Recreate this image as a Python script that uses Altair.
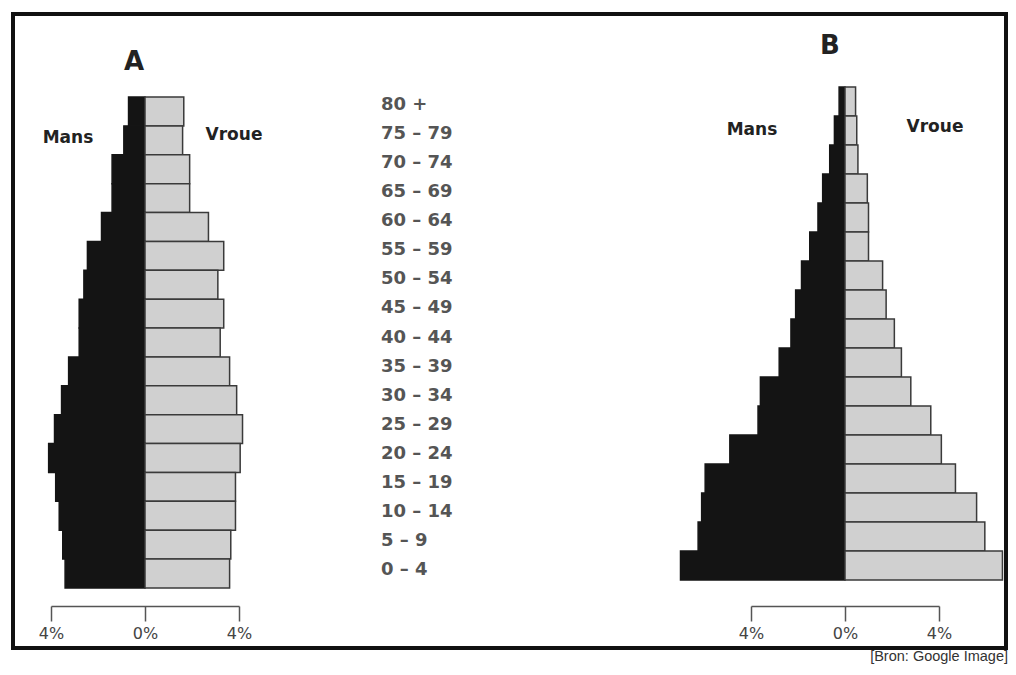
import altair as alt
import pandas as pd

# ---- data ----
ages = ["80 +", "75 – 79", "70 – 74", "65 – 69", "60 – 64", "55 – 59", "50 – 54",
        "45 – 49", "40 – 44", "35 – 39", "30 – 34", "25 – 29", "20 – 24",
        "15 – 19", "10 – 14", "5 – 9", "0 – 4"]

a_mans = [0.7, 0.9, 1.4, 1.4, 1.85, 2.45, 2.6, 2.8, 2.8, 3.25, 3.55, 3.85, 4.1, 3.8, 3.65, 3.5, 3.4]
a_vroue = [1.65, 1.6, 1.9, 1.9, 2.7, 3.35, 3.1, 3.35, 3.2, 3.6, 3.9, 4.15, 4.05, 3.85, 3.85, 3.65, 3.6]

b_mans = [0.25, 0.45, 0.65, 0.95, 1.15, 1.5, 1.85, 2.1, 2.3, 2.8, 3.6, 3.7, 4.9, 5.95, 6.1, 6.25, 7.0]
b_vroue = [0.45, 0.5, 0.55, 0.95, 1.0, 1.0, 1.6, 1.75, 2.1, 2.4, 2.8, 3.65, 4.1, 4.7, 5.6, 5.95, 6.7]

sexes = ["Mans", "Vroue"]
tick_values = [-4, 0, 4]
source_text = "[Bron:  Google Image]"

W, H = 1000, 598


def pyramid_table(mans, vroue):
    rows = []
    for age, m, v in zip(ages, mans, vroue):
        rows.append({"age": age, "sex": sexes[0], "pct": m, "signed": -m})
        rows.append({"age": age, "sex": sexes[1], "pct": v, "signed": v})
    return pd.DataFrame(rows)


def pyramid(df, x_range, y_range):
    # the axis line spans exactly the scale range, i.e. -4% .. 4%
    xs = alt.Scale(domain=[min(tick_values), max(tick_values)], range=x_range,
                   nice=False, zero=False)
    axis = alt.Axis(values=tick_values, labelExpr="abs(datum.value) + '%'",
                    orient="bottom", domain=True, domainColor="#555", domainWidth=1.5,
                    grid=False, ticks=True, tickSize=15, tickWidth=1.5, tickColor="#555",
                    labelFont="DejaVu Sans", labelFontSize=16, labelColor="#444",
                    labelPadding=4, labelFlush=False, title=None)
    return alt.Chart(df).mark_bar(strokeWidth=1.5).encode(
        x=alt.X("signed:Q", scale=xs, axis=axis, title=None),
        x2=alt.datum(0),
        y=alt.Y("age:N", sort=ages,
                scale=alt.Scale(range=y_range, paddingInner=0, paddingOuter=0),
                axis=None),
        color=alt.Color("sex:N", scale=alt.Scale(domain=sexes, range=["#141414", "#d0d0d0"]),
                        legend=None),
        stroke=alt.Stroke("sex:N", scale=alt.Scale(domain=sexes, range=["#141414", "#3a3a3a"]),
                          legend=None),
    )


def annot(text, x, y, size, weight="bold", color="#222", font="DejaVu Sans", align="center"):
    return alt.Chart(alt.Data(values=[{}])).mark_text(
        text=text, font=font, fontSize=size, fontWeight=weight, color=color,
        align=align, baseline="middle"
    ).encode(x=alt.value(x), y=alt.value(y))


pyr_a = pyramid(pyramid_table(a_mans, a_vroue), [43, 231], [89, 580])
pyr_b = pyramid(pyramid_table(b_mans, b_vroue), [743, 931], [79, 572])

labels = alt.Chart(pd.DataFrame({"age": ages})).transform_calculate(
    shown="length(datum.age) == 5 ? '\u2007\u2008' + datum.age : datum.age"
).mark_text(align="left", baseline="middle", font="DejaVu Sans", fontSize=18,
            fontWeight="bold", color="#555").encode(
    x=alt.value(373),
    y=alt.Y("age:N", sort=ages, scale=alt.Scale(range=[97, 562], padding=0), axis=None),
    text="shown:N",
)

frame = alt.Chart(alt.Data(values=[{}])).mark_rect(
    fill="white", fillOpacity=0, stroke="#111", strokeWidth=4
).encode(x=alt.value(5), x2=alt.value(998), y=alt.value(6), y2=alt.value(640))

annots = [
    annot("A", 126, 54, 26),
    annot("Mans", 60, 130, 17),
    annot("Vroue", 226, 127, 17),
    annot("B", 822, 38, 26),
    annot("Mans", 744, 122, 17),
    annot("Vroue", 927, 119, 17),
    annot(source_text, 1000, 649, 14.5, weight="normal", color="#333",
          font="Liberation Sans", align="right"),
]

chart = alt.layer(frame, pyr_a, pyr_b, labels, *annots).resolve_scale(
    x="independent", y="independent"
).properties(
    width=W, height=H,
    background="white",
    autosize=alt.AutoSizeParams(type="none"),
    padding={"left": 0, "top": 0, "right": 0, "bottom": 59},
).configure_view(stroke=None)

chart.save("out.html", embed_options={"renderer": "svg", "actions": False})
